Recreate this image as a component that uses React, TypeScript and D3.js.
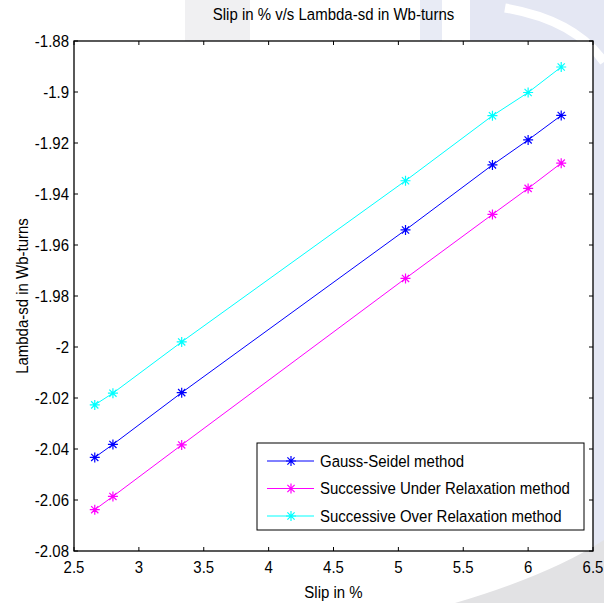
import { useEffect, useRef } from "react";
import * as d3 from "d3";

const slip = [2.66, 2.8, 3.33, 5.055, 5.725, 6.0, 6.255];
const gaussSeidel = [-2.0433, -2.0382, -2.0179, -1.9541, -1.9286, -1.9188, -1.9092];
const underRelax = [-2.0638, -2.0586, -2.0384, -1.9731, -1.948, -1.9378, -1.9279];
const overRelax = [-2.0227, -2.0181, -1.998, -1.9348, -1.9093, -1.9002, -1.8902];

const xTicks = [2.5, 3, 3.5, 4, 4.5, 5, 5.5, 6, 6.5];
const xTickLabels = ["2.5", "3", "3.5", "4", "4.5", "5", "5.5", "6", "6.5"];
const yTicks = [-2.08, -2.06, -2.04, -2.02, -2, -1.98, -1.96, -1.94, -1.92, -1.9, -1.88];
const yTickLabels = ["-2.08", "-2.06", "-2.04", "-2.02", "-2", "-1.98", "-1.96", "-1.94", "-1.92", "-1.9", "-1.88"];

const seriesNames = [
  "Gauss-Seidel method",
  "Successive Under Relaxation method",
  "Successive Over Relaxation method",
];
const seriesColors = ["#0000ff", "#ff00ff", "#00ffff"];

const W = 604;
const H = 603;
const FONT = "'Liberation Sans', Arial, sans-serif";
const FS = 15;
const SY = 1.12; // text looks stretched vertically in the scan

const App = () => {
  const ref = useRef<SVGSVGElement>(null);

  useEffect(() => {
    document.body.style.margin = "0";
    const svg = d3.select(ref.current);
    svg.selectAll("*").remove();

    const m = { left: 74, right: 11, top: 41, bottom: 52 };
    const x = d3.scaleLinear().domain([2.5, 6.5]).range([m.left, W - m.right]);
    const y = d3.scaleLinear().domain([-2.08, -1.88]).range([H - m.bottom, m.top]);

    // faint watermark from the scanned page
    const bg = svg.append("g");
    bg.append("path")
      .attr("d", "M470,0 H604 V603 H593 V41 H470 Z")
      .attr("fill", "#e4e7f3");
    bg.append("path")
      .attr("d", "M505,8 Q575,20 604,62")
      .attr("fill", "none")
      .attr("stroke", "#fff")
      .attr("stroke-width", 9);
    bg.append("rect").attr("x", 185).attr("y", 0).attr("width", 65).attr("height", 41).attr("fill", "#f0f0f2");
    bg.append("rect").attr("x", 420).attr("y", 0).attr("width", 22).attr("height", 41).attr("fill", "#e8ebf5");
    bg.append("path")
      .attr("d", "M455,603 Q550,575 604,540 L604,603 Z")
      .attr("fill", "#e2e2e4");

    // axes area
    svg.append("rect")
      .attr("x", m.left)
      .attr("y", m.top)
      .attr("width", W - m.left - m.right)
      .attr("height", H - m.top - m.bottom)
      .attr("fill", "#fff");

    const tl = 4;
    const ax = svg.append("g").attr("stroke", "#000").attr("stroke-width", 1);
    xTicks.forEach((t) => {
      ax.append("line").attr("x1", x(t)).attr("x2", x(t)).attr("y1", y(-2.08)).attr("y2", y(-2.08) - tl);
      ax.append("line").attr("x1", x(t)).attr("x2", x(t)).attr("y1", y(-1.88)).attr("y2", y(-1.88) + tl);
    });
    yTicks.forEach((t) => {
      ax.append("line").attr("x1", x(2.5)).attr("x2", x(2.5) + tl).attr("y1", y(t)).attr("y2", y(t));
      ax.append("line").attr("x1", x(6.5)).attr("x2", x(6.5) - tl).attr("y1", y(t)).attr("y2", y(t));
    });
    ax.append("rect")
      .attr("x", m.left)
      .attr("y", m.top)
      .attr("width", W - m.left - m.right)
      .attr("height", H - m.top - m.bottom)
      .attr("fill", "none")
      .attr("stroke-width", 1.3);

    const txt = svg.append("g").attr("font-family", FONT).attr("font-size", FS).attr("fill", "#000");
    const label = (tx: number, ty: number, s: string, anchor: string, rot = 0) =>
      txt.append("text")
        .attr("transform", `translate(${tx},${ty}) rotate(${rot}) scale(1,${SY})`)
        .attr("text-anchor", anchor)
        .text(s);

    xTicks.forEach((t, i) => label(x(t), y(-2.08) + 22, xTickLabels[i], "middle"));
    yTicks.forEach((t, i) => label(x(2.5) - 5, y(t) + 5.5, yTickLabels[i], "end"));
    label((x(2.5) + x(6.5)) / 2, 20, "Slip in % v/s Lambda-sd in Wb-turns", "middle");
    label((x(2.5) + x(6.5)) / 2, 598, "Slip in %", "middle");
    label(28, (y(-2.08) + y(-1.88)) / 2, "Lambda-sd in Wb-turns", "middle", -90);

    // asterisk marker
    const r = 5;
    const d = 3.6;
    const star = `M${-r},0H${r}M0,${-r}V${r}M${-d},${-d}L${d},${d}M${-d},${d}L${d},${-d}`;

    const line = d3
      .line<number>()
      .x((v, i) => x(slip[i]))
      .y((v) => y(v));

    [gaussSeidel, underRelax, overRelax].forEach((vals, k) => {
      const g = svg.append("g");
      g.append("path")
        .datum(vals)
        .attr("d", line)
        .attr("fill", "none")
        .attr("stroke", seriesColors[k])
        .attr("stroke-width", 1);
      g.selectAll("path.mk")
        .data(vals)
        .enter()
        .append("path")
        .attr("class", "mk")
        .attr("d", star)
        .attr("transform", (v, i) => `translate(${x(slip[i])},${y(v)})`)
        .attr("fill", "none")
        .attr("stroke", seriesColors[k])
        .attr("stroke-width", 1.2);
    });

    // legend
    const lg = svg.append("g").attr("transform", "translate(257, 443)");
    lg.append("rect")
      .attr("width", 327)
      .attr("height", 87)
      .attr("fill", "#fff")
      .attr("stroke", "#000")
      .attr("stroke-width", 1);
    seriesNames.forEach((name, k) => {
      const cy = 18 + k * 27.5;
      lg.append("line")
        .attr("x1", 10)
        .attr("x2", 57)
        .attr("y1", cy)
        .attr("y2", cy)
        .attr("stroke", seriesColors[k])
        .attr("stroke-width", 1);
      lg.append("path")
        .attr("d", star)
        .attr("transform", `translate(34,${cy})`)
        .attr("fill", "none")
        .attr("stroke", seriesColors[k])
        .attr("stroke-width", 1.2);
      lg.append("text")
        .attr("transform", `translate(63,${cy + 5.5}) scale(1,${SY})`)
        .attr("font-family", FONT)
        .attr("font-size", FS)
        .text(name);
    });
  }, []);

  return <svg ref={ref} width={W} height={H} style={{ display: "block" }}></svg>;
};

export default App;
